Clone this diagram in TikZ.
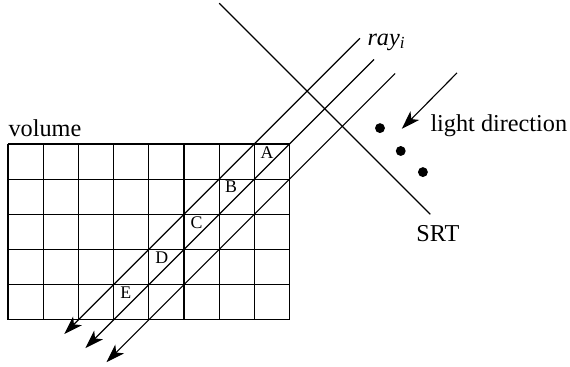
\documentclass[tikz,border=0pt]{standalone}
\usepackage{fontspec}
\setmainfont{Liberation Serif}
\usetikzlibrary{arrows.meta}

\begin{document}
\begin{tikzpicture}[x=0.5cm,y=0.5cm,line width=0.45pt,
  cellmark/.style={font=\fontsize{7.2}{8}\selectfont,inner sep=0pt},
  biglabel/.style={font=\fontsize{9.8}{12}\selectfont,inner sep=0pt,anchor=base west},
  dotmark/.style={circle,fill,inner sep=0pt,minimum size=4pt},
  raytip/.style={-{Stealth[length=7.5pt,width=5pt,inset=2pt]}}]
\useasboundingbox (-0.227,-1.335) rectangle (15.97,9.09);
% volume, 8 x 5 cells
\draw[xstep=0.5cm,ystep=0.5cm] (0,0) grid (8,5);
\node[biglabel] (vol) at (0,5.21) {volume};
% rays through the volume
\foreach \k/\tx/\bx in {2/10/1.6, 3/10.4/2.2, 4/11/2.8} {
  \coordinate (raytop\k) at (\tx,\tx-\k);
  \coordinate (raytip\k) at (\bx,\bx-\k);
  \draw[raytip] (raytop\k) -- (raytip\k);
}
\node[biglabel] (rayi) at (10.2,7.81) {\itshape ray\textsubscript{i}};
% sample points along the ray
\foreach \n/\x/\y in {A/7.36/4.75, B/6.34/3.78, C/5.36/2.76, D/4.37/1.76, E/3.35/0.77}
  \node[cellmark] (cell\n) at (\x,\y) {\n};
% shadow ray texture plane
\coordinate (srttop) at (6,9);
\coordinate (srtend) at (12,3);
\draw (srttop) -- (srtend);
\node[biglabel] (srt) at (11.59,2.22) {SRT};
% light
\foreach \n/\x/\y in {1/10.57/5.45, 2/11.16/4.8, 3/11.79/4.2}
  \node[dotmark] (dot\n) at (\x,\y) {};
\coordinate (lightfrom) at (12.76,7.02);
\coordinate (lightto) at (11.19,5.43);
\draw[raytip] (lightfrom) -- (lightto);
\node[biglabel] (light) at (11.99,5.34) {light direction};
\end{tikzpicture}
\end{document}
